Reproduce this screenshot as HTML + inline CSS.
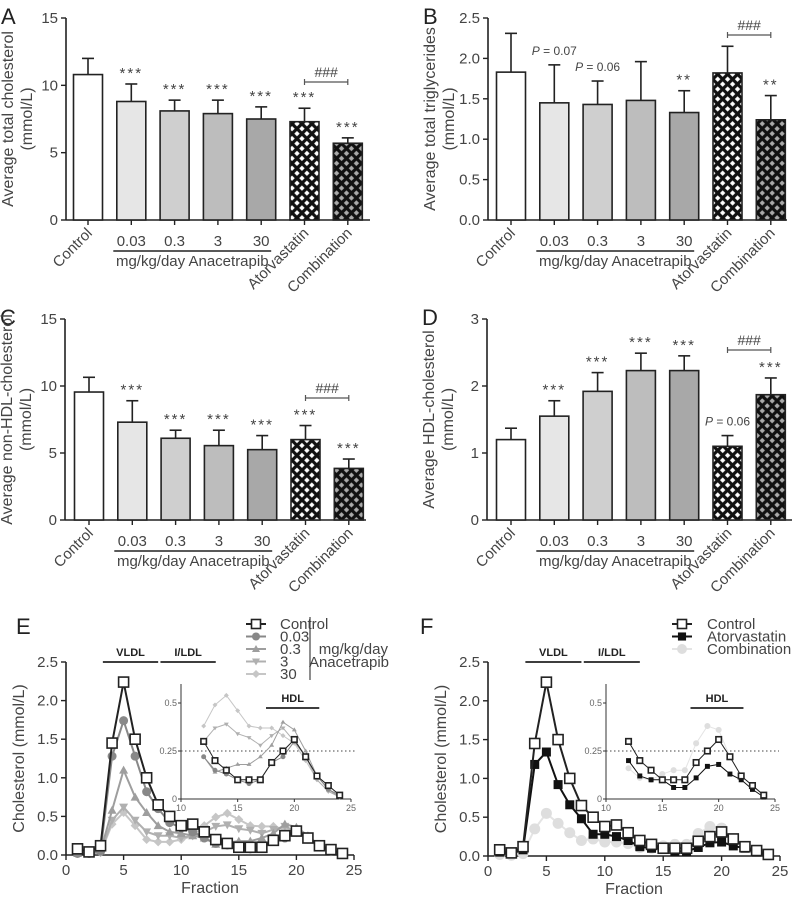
<!DOCTYPE html>
<html><head><meta charset="utf-8"><style>
html,body{margin:0;padding:0;background:#fff}
svg{display:block;font-family:"Liberation Sans",Arial,sans-serif}
</style></head><body>
<svg id="fig" width="795" height="900" viewBox="0 0 795 900" xmlns="http://www.w3.org/2000/svg">
<defs>
<pattern id="hatchW" width="7" height="7" patternUnits="userSpaceOnUse" patternTransform="rotate(45)">
<rect width="7" height="7" fill="#111"/><rect x="1.6" y="1.6" width="3.8" height="3.8" fill="#fff"/></pattern>
<pattern id="hatchG" width="7" height="7" patternUnits="userSpaceOnUse" patternTransform="rotate(45)">
<rect width="7" height="7" fill="#111"/><rect x="1.6" y="1.6" width="3.8" height="3.8" fill="#aaa"/></pattern>
</defs>
<g id="root"></g>
</svg>
<script>
// ---- bar chart data ----
const groups = ["Control","0.03","0.3","3","30","Atorvastatin","Combination"];
const meanA = [10.8, 8.8, 8.1, 7.9, 7.5, 7.3, 5.7];
const errA  = [12.0, 10.1, 8.9, 8.9, 8.4, 8.3, 6.1];
const sigA  = ["","***","***","***","***","***","***"];
const meanB = [1.83, 1.45, 1.43, 1.48, 1.33, 1.82, 1.24];
const errB  = [2.31, 1.92, 1.72, 1.96, 1.60, 2.15, 1.54];
const sigB  = ["","P = 0.07","P = 0.06","","**","","**"];
const meanC = [9.55, 7.3, 6.1, 5.55, 5.25, 6.0, 3.85];
const errC  = [10.65, 8.9, 6.7, 6.7, 6.3, 7.05, 4.55];
const sigC  = ["","***","***","***","***","***","***"];
const meanD = [1.2, 1.55, 1.92, 2.23, 2.23, 1.1, 1.87];
const errD  = [1.37, 1.78, 2.2, 2.49, 2.45, 1.26, 2.12];
const sigD  = ["","***","***","***","***","P = 0.06","***"];
const ticksA = [0,5,10,15];
const ticksB = ["0.0","0.5","1.0","1.5","2.0","2.5"];
const ticksC = [0,5,10,15];
const ticksD = [0,1,2,3];
// ---- fraction profile data ----
const fractions = [1,2,3,4,5,6,7,8,9,10,11,12,13,14,15,16,17,18,19,20,21,22,23,24];
const ctrl  = [0.08,0.04,0.12,1.45,2.24,1.5,1.0,0.65,0.5,0.38,0.4,0.3,0.2,0.15,0.1,0.1,0.1,0.19,0.25,0.31,0.22,0.12,0.07,0.02];
const ana003= [0.02,0.02,0.05,1.28,1.74,1.28,0.82,0.6,0.42,0.35,0.3,0.22,0.15,0.13,0.1,0.08,0.1,0.19,0.22,0.3,0.22,0.12,0.05,0.02];
const ana03 = [0.02,0.02,0.05,0.58,1.1,0.75,0.55,0.38,0.3,0.28,0.25,0.22,0.14,0.16,0.18,0.18,0.22,0.28,0.4,0.36,0.25,0.12,0.05,0.01];
const ana3  = [0.02,0.02,0.03,0.45,0.62,0.45,0.3,0.25,0.25,0.22,0.25,0.3,0.37,0.39,0.34,0.32,0.28,0.33,0.37,0.3,0.22,0.1,0.04,0.01];
const ana30 = [0.02,0.02,0.03,0.4,0.55,0.38,0.2,0.17,0.17,0.2,0.25,0.38,0.49,0.54,0.46,0.38,0.37,0.37,0.33,0.29,0.2,0.1,0.04,0.01];
const atorva= [0.05,0.03,0.08,1.18,1.34,0.92,0.66,0.48,0.28,0.28,0.25,0.2,0.12,0.1,0.1,0.06,0.06,0.11,0.17,0.18,0.13,0.1,0.05,0.01];
const combo = [0.02,0.01,0.03,0.35,0.55,0.42,0.3,0.2,0.22,0.18,0.18,0.16,0.11,0.1,0.13,0.15,0.15,0.29,0.38,0.36,0.22,0.12,0.07,0.02];
const mainYTicks = ["0.0","0.5","1.0","1.5","2.0","2.5"];
const mainXTicks = [0,5,10,15,20,25];
const insetYTicks = ["0","0.25","0.5"];
const insetXTicks = [10,15,20,25];

const NS="http://www.w3.org/2000/svg";
const root=document.getElementById('root');
function mk(tag,attrs,parent,text){const e=document.createElementNS(NS,tag);for(const k in attrs)e.setAttribute(k,attrs[k]);if(text!==undefined)e.textContent=text;(parent||root).appendChild(e);return e;}

const fills=["#fff","#e6e6e6","#cfcfcf","#bdbdbd","#a8a8a8","url(#hatchW)","url(#hatchG)"];

function barPanel(p){
  const g=mk('g',{});
  
  
  const y=v=>p.y0-(v/p.max)*(p.y0-p.yTop);
  const cx=i=>p.ax+p.off+i*43.3;
  const L=mk('text',{x:p.ax-65,y:p.yTop+6,'font-size':22,fill:'#222'},g,p.letter);
  
  // axes
  const ya=mk('line',{x1:p.ax,y1:p.yTop,x2:p.ax,y2:p.y0,stroke:'#222','stroke-width':1.6},g);
  
  const xa=mk('line',{x1:p.ax,y1:p.y0,x2:p.axEnd,y2:p.y0,stroke:'#222','stroke-width':1.6},g);
  
  p.ticks.forEach(t=>{const v=parseFloat(t);const yy=y(v);
    mk('line',{x1:p.ax-5,y1:yy,x2:p.ax,y2:yy,stroke:'#222','stroke-width':1.4},g);
    const tl=mk('text',{x:p.ax-8,y:yy+5,'text-anchor':'end','font-size':15,fill:'#444'},g,String(t));
    
  });
  const yt=mk('text',{transform:`translate(${p.ax-53},${(p.y0+p.yTop)/2}) rotate(-90)`,'text-anchor':'middle','font-size':16,fill:'#444'},g);
  
  mk('tspan',{x:0,dy:0},yt,p.title1);mk('tspan',{x:0,dy:19},yt,'(mmol/L)');
  groups.forEach((gr,i)=>{
    const c=cx(i),top=y(p.mean[i]),et=y(p.err[i]);
    mk('line',{x1:c,y1:p.y0,x2:c,y2:p.y0+5,stroke:'#222','stroke-width':1.4},g);
    const eb=mk('line',{x1:c,y1:top,x2:c,y2:et,stroke:'#222','stroke-width':1.6},g);
    
    mk('line',{x1:c-6,y1:et,x2:c+6,y2:et,stroke:'#222','stroke-width':1.6},g);
    const r=mk('rect',{x:c-14.5,y:top,width:29,height:p.y0-top,fill:fills[i],stroke:'#222','stroke-width':1.6},g);
    
    const s=p.sig[i];
    if(s){const isP=s[0]==='P';
      const st=mk('text',{x:c,y:et-(isP?10:6),'text-anchor':'middle','font-size':isP?12:15,fill:'#444','letter-spacing':isP?0:2},g);
      
      if(isP){mk('tspan',{'font-style':'italic'},st,'P');mk('tspan',{},st,s.slice(1));}else st.textContent=s;}
    if(i>=1&&i<=4){const dl=mk('text',{x:c,y:p.y0+26,'text-anchor':'middle','font-size':15,fill:'#444'},g,gr);
      }
    else{const xl=mk('text',{transform:`translate(${c+5},${p.y0+14}) rotate(-45)`,'text-anchor':'end','font-size':15,fill:'#444'},g,gr);
      }
  });
  mk('line',{x1:cx(1)-18,y1:p.y0+31,x2:cx(4)+10,y2:p.y0+31,stroke:'#222','stroke-width':1.6},g);
  const an=mk('text',{x:(cx(1)+cx(4))/2-4,y:p.y0+46,'text-anchor':'middle','font-size':15,fill:'#444'},g,'mg/kg/day Anacetrapib');
  
  // ### bracket
  const by=p.hashY;
  mk('line',{x1:cx(5),y1:by,x2:cx(6),y2:by,stroke:'#555','stroke-width':1.2},g);
  mk('line',{x1:cx(5),y1:by-3,x2:cx(5),y2:by+3,stroke:'#555','stroke-width':1.2},g);
  mk('line',{x1:cx(6),y1:by-3,x2:cx(6),y2:by+3,stroke:'#555','stroke-width':1.2},g);
  const h=mk('text',{x:(cx(5)+cx(6))/2,y:by-5,'text-anchor':'middle','font-size':14,fill:'#444'},g,'###');
  
}
barPanel({name:'panel-a-total-cholesterol',letter:'A',ax:66,off:22,axEnd:370,y0:220,yTop:18,max:15,ticks:ticksA,mean:meanA,err:errA,sig:sigA,title1:'Average total cholesterol',hashY:82});
barPanel({name:'panel-b-triglycerides',letter:'B',ax:488,off:23,axEnd:787,y0:220,yTop:18,max:2.5,ticks:ticksB,mean:meanB,err:errB,sig:sigB,title1:'Average total triglycerides',hashY:35});
barPanel({name:'panel-c-non-hdl-cholesterol',letter:'C',ax:65,off:24,axEnd:366,y0:520,yTop:319,max:15,ticks:ticksC,mean:meanC,err:errC,sig:sigC,title1:'Average non-HDL-cholesterol',hashY:398});
barPanel({name:'panel-d-hdl-cholesterol',letter:'D',ax:487,off:24,axEnd:792,y0:520,yTop:319,max:3,ticks:ticksD,mean:meanD,err:errD,sig:sigD,title1:'Average HDL-cholesterol',hashY:350});

function marker(g,type,x,y,s,col){
  let e;
  if(type==='sqOpen')e=mk('rect',{x:x-s/2,y:y-s/2,width:s,height:s,fill:'#fff',stroke:col,'stroke-width':1.6},g);
  else if(type==='sq')e=mk('rect',{x:x-s/2,y:y-s/2,width:s,height:s,fill:col},g);
  else if(type==='circ')e=mk('circle',{cx:x,cy:y,r:s/2,fill:col},g);
  else if(type==='tri')e=mk('polygon',{points:`${x},${y-s/2} ${x+s/2},${y+s/2-1} ${x-s/2},${y+s/2-1}`,fill:col},g);
  else if(type==='dtri')e=mk('polygon',{points:`${x},${y+s/2} ${x+s/2},${y-s/2+1} ${x-s/2},${y-s/2+1}`,fill:col},g);
  else if(type==='dia')e=mk('polygon',{points:`${x},${y-s/2} ${x+s/2},${y} ${x},${y+s/2} ${x-s/2},${y}`,fill:col},g);
  return e;
}
function linePanel(p){
  const g=mk('g',{});
  
  const L=mk('text',{x:p.letterX,y:634,'font-size':22,fill:'#222'},g,p.letter);
  
  const X=v=>p.x0+(v/25)*(p.x25-p.x0);
  const Y=v=>p.y0-(v/2.5)*(p.y0-662);
  const ya=mk('line',{x1:p.x0,y1:662,x2:p.x0,y2:p.y0,stroke:'#222','stroke-width':1.6},g);
  
  const xa=mk('line',{x1:p.x0,y1:p.y0,x2:p.x25,y2:p.y0,stroke:'#222','stroke-width':1.6},g);
  
  mainYTicks.forEach(t=>{const yy=Y(parseFloat(t));mk('line',{x1:p.x0-5,y1:yy,x2:p.x0,y2:yy,stroke:'#222','stroke-width':1.4},g);
    const tl=mk('text',{x:p.x0-8,y:yy+5,'text-anchor':'end','font-size':15,fill:'#444'},g,t);
    });
  mainXTicks.forEach(t=>{const xx=X(t);mk('line',{x1:xx,y1:p.y0,x2:xx,y2:p.y0+5,stroke:'#222','stroke-width':1.4},g);
    const tl=mk('text',{x:xx,y:p.y0+20,'text-anchor':'middle','font-size':15,fill:'#444'},g,String(t));
    });
  const yt=mk('text',{transform:`translate(${p.x0-42},${(p.y0+662)/2}) rotate(-90)`,'text-anchor':'middle','font-size':16,fill:'#444'},g,'Cholesterol (mmol/L)');
  
  const xt=mk('text',{x:(p.x0+p.x25)/2,y:p.y0+38,'text-anchor':'middle','font-size':16,fill:'#444'},g,'Fraction');
  
  [['VLDL',3.2,8],['I/LDL',8.2,13]].forEach(([n,a,b])=>{
    mk('line',{x1:X(a),y1:662,x2:X(b),y2:662,stroke:'#222','stroke-width':1.8},g);
    const t=mk('text',{x:(X(a)+X(b))/2,y:656,'text-anchor':'middle','font-size':11,'font-weight':'bold',fill:'#222'},g,n);
    });
  // inset
  const IX=v=>p.ix10+((v-10)/15)*(p.ix25-p.ix10);
  const IY=v=>799-(v/0.5)*96;
  const ig=mk('g',{},g);
  mk('line',{x1:p.ix10,y1:684,x2:p.ix10,y2:799,stroke:'#333','stroke-width':1},ig);
  mk('line',{x1:p.ix10,y1:799,x2:p.ix25,y2:799,stroke:'#333','stroke-width':1},ig);
  insetYTicks.forEach(t=>{const yy=IY(parseFloat(t));mk('line',{x1:p.ix10-3,y1:yy,x2:p.ix10,y2:yy,stroke:'#333'},ig);
    mk('text',{x:p.ix10-4,y:yy+3,'text-anchor':'end','font-size':9,fill:'#666'},ig,t);});
  insetXTicks.forEach(t=>{const xx=IX(t);mk('line',{x1:xx,y1:799,x2:xx,y2:802,stroke:'#333'},ig);
    mk('text',{x:xx,y:811,'text-anchor':'middle','font-size':9,fill:'#666'},ig,String(t));});
  const ref=mk('line',{x1:p.ix10,y1:IY(0.25),x2:p.ix25+4,y2:IY(0.25),stroke:'#444','stroke-width':1,'stroke-dasharray':'1.5,2.5'},ig);
  
  mk('line',{x1:IX(17.5),y1:708,x2:IX(22.2),y2:708,stroke:'#222','stroke-width':1.8},ig);
  const hd=mk('text',{x:IX(19.85),y:702,'text-anchor':'middle','font-size':11,'font-weight':'bold',fill:'#222'},ig,'HDL');
  
  // series (draw reverse so first is on top)
  p.series.slice().reverse().forEach(s=>{
    const sg=mk('g',{},g);
    mk('polyline',{points:fractions.map((f,i)=>X(f)+','+Y(s.data[i])).join(' '),fill:'none',stroke:s.line,'stroke-width':2},sg);
    fractions.forEach((f,i)=>{const m=marker(sg,s.mk,X(f),Y(s.data[i]),s.size,s.col);
      });
    const isg=mk('g',{},ig);
    const idx=fractions.map((f,i)=>i).filter(i=>fractions[i]>=12);
    mk('polyline',{points:idx.map(i=>IX(fractions[i])+','+IY(s.data[i])).join(' '),fill:'none',stroke:s.line,'stroke-width':1},isg);
    idx.forEach(i=>{const m=marker(isg,s.mk,IX(fractions[i]),IY(s.data[i]),s.size*0.55,s.col);
      });
  });
  // legend
  p.series.forEach((s,k)=>{const yy=624+k*12.5;
    const lg=mk('g',{},g);
    mk('line',{x1:p.legX-10,y1:yy,x2:p.legX+10,y2:yy,stroke:s.line,'stroke-width':2},lg);
    marker(lg,s.mk,p.legX,yy,s.size*0.9,s.col);
    mk('text',{x:p.legX+p.legTx,y:yy+5,'text-anchor':p.legAnchor,'font-size':15,fill:'#444'},lg,s.label);});
}
linePanel({name:'panel-e-anacetrapib-profile',letter:'E',letterX:16,x0:66,x25:354,y0:855,ix10:181,ix25:351,legX:256,legTx:24,legAnchor:'start',
  series:[{key:'control',label:'Control',data:ctrl,mk:'sqOpen',size:10,col:'#222',line:'#222'},
    {key:'0-03',label:'0.03',data:ana003,mk:'circ',size:9,col:'#888',line:'#888'},
    {key:'0-3',label:'0.3',data:ana03,mk:'tri',size:9,col:'#9e9e9e',line:'#9e9e9e'},
    {key:'3',label:'3',data:ana3,mk:'dtri',size:9,col:'#b0b0b0',line:'#b0b0b0'},
    {key:'30',label:'30',data:ana30,mk:'dia',size:9,col:'#c6c6c6',line:'#c6c6c6'}]});
linePanel({name:'panel-f-atorvastatin-profile',letter:'F',letterX:420,x0:488,x25:780,y0:856,ix10:606,ix25:775,legX:682,legTx:25,legAnchor:'start',
  series:[{key:'control',label:'Control',data:ctrl,mk:'sqOpen',size:10,col:'#222',line:'#222'},
    {key:'atorvastatin',label:'Atorvastatin',data:atorva,mk:'sq',size:9,col:'#111',line:'#111'},
    {key:'combination',label:'Combination',data:combo,mk:'circ',size:11,col:'#dedede',line:'#e4e4e4'}]});
// E legend bracket
const br=mk('line',{x1:310,y1:617,x2:310,y2:680,stroke:'#444','stroke-width':1.2});

const t1=mk('text',{x:388,y:654,'text-anchor':'end','font-size':15,fill:'#444'},root,'mg/kg/day');

const t2=mk('text',{x:389,y:667,'text-anchor':'end','font-size':15,fill:'#444'},root,'Anacetrapib');

</script>
</body></html>
